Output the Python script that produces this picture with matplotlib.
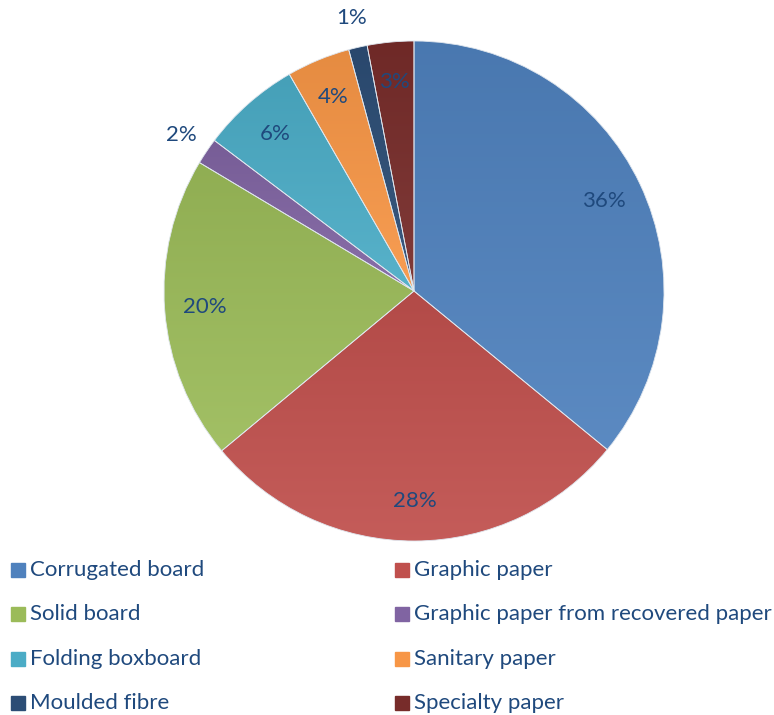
import numpy as np
import matplotlib.pyplot as plt
from matplotlib.colors import to_rgb
from matplotlib.patches import Rectangle

# data
labels = ['Corrugated board', 'Graphic paper', 'Solid board',
          'Graphic paper from recovered paper', 'Folding boxboard',
          'Sanitary paper', 'Moulded fibre', 'Specialty paper']
shares = [35.9, 28.0, 19.6, 1.7, 6.4, 4.1, 1.2, 3.0]
colors = ['#4F81BD', '#C0504D', '#9BBB59', '#8064A2',
          '#4BACC6', '#F79646', '#2C4D75', '#772C2A']

plt.rcParams['font.family'] = ['Lato', 'DejaVu Sans']
txt_col = '#1F497D'
fs = 16

fig = plt.figure(figsize=(7.74, 7.15), dpi=100)
ax = fig.add_axes([164 / 774, 1 - 541 / 715, 500 / 774, 500 / 715])
wedges, _ = ax.pie(shares, colors=colors, startangle=90, counterclock=False,
                   wedgeprops=dict(linewidth=0.6, edgecolor='#dfe6ee'))


def shade(c, k):
    c = np.array(to_rgb(c))
    if k < 0:
        return c * (1 + k)
    return c + (1 - c) * k


# vertical gradient inside every slice (darker on top)
for w, c in zip(wedges, colors):
    bb = w.get_path().get_extents()
    top, bot = shade(c, -0.07), shade(c, 0.07)
    t = np.linspace(0, 1, 200)[:, None, None]
    img = top[None, None, :] * (1 - t) + bot[None, None, :] * t
    im = ax.imshow(img, extent=(bb.x0, bb.x1, bb.y0, bb.y1), origin='upper',
                   aspect='auto', zorder=w.get_zorder() - 0.1, interpolation='bilinear')
    im.set_clip_path(w)
    w.set_facecolor('none')

ax.set_xlim(-1, 1)
ax.set_ylim(-1, 1)
ax.axis('off')

# percent labels
for w, v in zip(wedges, shares):
    mid = np.deg2rad((w.theta1 + w.theta2) / 2)
    r = 1.12 if v < 2.5 else 0.84
    ax.text(r * np.cos(mid), r * np.sin(mid), '%.0f%%' % round(v),
            ha='center', va='center', fontsize=fs, color=txt_col)

# legend, two columns
lax = fig.add_axes([0, 0, 1, 1])
lax.set_xlim(0, 774)
lax.set_ylim(715, 0)
lax.axis('off')
rows = [570, 614, 659, 703]
for i, (lab, c) in enumerate(zip(labels, colors)):
    y = rows[i // 2]
    x = 11 if i % 2 == 0 else 395
    lax.add_patch(Rectangle((x, y - 7), 14, 14, color=c))
    lax.text(x + 19, y, lab, ha='left', va='center', fontsize=fs, color=txt_col)

fig.savefig('out.png', dpi=100)
